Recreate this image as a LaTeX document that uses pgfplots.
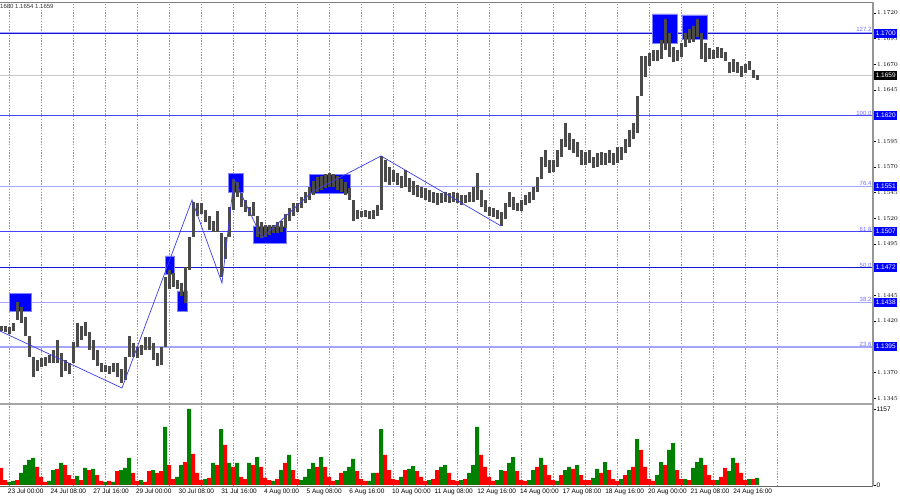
\documentclass[border=0pt]{standalone}
\usepackage{pgfplots}
\pgfplotsset{compat=1.18}
\usepackage{pgfplotstable}
\usepackage{fontspec}
\setmainfont{Liberation Sans}

\definecolor{candle}{RGB}{75,75,75}
\definecolor{lvdark}{RGB}{20,20,215}
\definecolor{lvmid}{RGB}{70,70,245}
\definecolor{lvlight}{RGB}{165,165,255}
\definecolor{lvtext}{RGB}{110,110,255}
\definecolor{boxblue}{RGB}{0,0,255}
\definecolor{boxedge}{RGB}{130,130,255}
\definecolor{zig}{RGB}{60,60,235}
\definecolor{volgreen}{RGB}{0,128,0}
\definecolor{volred}{RGB}{255,0,0}
\definecolor{framec}{RGB}{150,150,150}
\definecolor{gridc}{RGB}{150,150,150}
\definecolor{lastp}{RGB}{200,200,200}

\newcommand{\tinyfont}{\fontsize{6.5}{7}\selectfont}

% hourly bars, sampled every 3 hours: hour index, low, high
\pgfplotstableread{
h lo hi
-6 1.1410 1.1415
-3 1.1409 1.1415
0 1.1407 1.1414
3 1.1410 1.1418
6 1.1421 1.1439
9 1.1418 1.1434
12 1.1405 1.1424
15 1.1385 1.1405
18 1.1366 1.1385
21 1.1371 1.1382
24 1.1375 1.1384
27 1.1376 1.1385
30 1.1379 1.1387
33 1.1379 1.1392
36 1.1379 1.1402
39 1.1366 1.1389
42 1.1371 1.1382
45 1.1368 1.1379
48 1.1379 1.1400
51 1.1395 1.1418
54 1.1402 1.1415
57 1.1405 1.1419
60 1.1392 1.1409
63 1.1382 1.1402
66 1.1376 1.1392
69 1.1370 1.1379
72 1.1370 1.1377
75 1.1368 1.1376
78 1.1370 1.1379
81 1.1366 1.1379
84 1.1360 1.1373
87 1.1363 1.1385
90 1.1385 1.1405
93 1.1385 1.1399
96 1.1384 1.1395
99 1.1387 1.1397
102 1.1392 1.1404
105 1.1392 1.1404
108 1.1382 1.1399
111 1.1376 1.1389
114 1.1377 1.1395
117 1.1395 1.1463
120 1.1451 1.1470
123 1.1453 1.1467
126 1.1451 1.1460
129 1.1444 1.1457
132 1.1438 1.1473
135 1.1470 1.1502
138 1.1502 1.1536
141 1.1522 1.1535
144 1.1524 1.1535
147 1.1516 1.1528
150 1.1509 1.1522
153 1.1507 1.1517
156 1.1507 1.1527
159 1.1463 1.1506
162 1.1480 1.1502
165 1.1502 1.1531
168 1.1528 1.1558
171 1.1541 1.1555
174 1.1531 1.1545
177 1.1526 1.1538
180 1.1522 1.1531
183 1.1522 1.1536
186 1.1502 1.1522
189 1.1501 1.1516
192 1.1502 1.1514
195 1.1504 1.1514
198 1.1506 1.1514
201 1.1506 1.1516
204 1.1507 1.1517
207 1.1511 1.1524
210 1.1517 1.1530
213 1.1522 1.1535
216 1.1526 1.1535
219 1.1530 1.1541
222 1.1535 1.1546
225 1.1538 1.1551
228 1.1543 1.1556
231 1.1546 1.1560
234 1.1548 1.1561
237 1.1550 1.1563
240 1.1551 1.1564
243 1.1551 1.1563
246 1.1548 1.1561
249 1.1546 1.1558
252 1.1543 1.1555
255 1.1538 1.1550
258 1.1517 1.1538
261 1.1519 1.1528
264 1.1521 1.1527
267 1.1521 1.1528
270 1.1519 1.1527
273 1.1519 1.1528
276 1.1522 1.1533
279 1.1528 1.1581
282 1.1555 1.1577
285 1.1553 1.1570
288 1.1555 1.1567
291 1.1553 1.1564
294 1.1550 1.1561
297 1.1551 1.1567
300 1.1546 1.1559
303 1.1543 1.1556
306 1.1541 1.1553
309 1.1540 1.1551
312 1.1538 1.1550
315 1.1536 1.1548
318 1.1535 1.1546
321 1.1533 1.1545
324 1.1535 1.1545
327 1.1536 1.1546
330 1.1535 1.1545
333 1.1536 1.1546
336 1.1535 1.1545
339 1.1533 1.1543
342 1.1535 1.1543
345 1.1536 1.1546
348 1.1536 1.1551
351 1.1538 1.1564
354 1.1531 1.1548
357 1.1526 1.1538
360 1.1522 1.1531
363 1.1521 1.1530
366 1.1519 1.1528
369 1.1513 1.1526
372 1.1519 1.1535
375 1.1531 1.1546
378 1.1528 1.1541
381 1.1527 1.1535
384 1.1527 1.1538
387 1.1533 1.1543
390 1.1535 1.1546
393 1.1538 1.1551
396 1.1546 1.1560
399 1.1558 1.1580
402 1.1570 1.1587
405 1.1564 1.1577
408 1.1565 1.1577
411 1.1570 1.1587
414 1.1580 1.1597
417 1.1590 1.1613
420 1.1587 1.1603
423 1.1584 1.1597
426 1.1580 1.1594
429 1.1572 1.1587
432 1.1572 1.1585
435 1.1574 1.1587
438 1.1569 1.1580
441 1.1570 1.1584
444 1.1572 1.1585
447 1.1572 1.1584
450 1.1574 1.1587
453 1.1572 1.1584
456 1.1574 1.1590
459 1.1577 1.1590
462 1.1584 1.1597
465 1.1590 1.1606
468 1.1597 1.1613
471 1.1603 1.1639
474 1.1639 1.1678
477 1.1658 1.1678
480 1.1668 1.1681
483 1.1673 1.1684
486 1.1673 1.1684
489 1.1675 1.1694
492 1.1684 1.1714
495 1.1677 1.1701
498 1.1672 1.1687
501 1.1673 1.1684
504 1.1677 1.1691
507 1.1687 1.1701
510 1.1691 1.1704
513 1.1692 1.1707
516 1.1697 1.1714
519 1.1675 1.1701
522 1.1672 1.1691
525 1.1675 1.1686
528 1.1675 1.1684
531 1.1676 1.1687
534 1.1676 1.1686
537 1.1673 1.1682
540 1.1662 1.1672
543 1.1663 1.1675
546 1.1662 1.1672
549 1.1658 1.1668
552 1.1662 1.1670
555 1.1665 1.1673
558 1.1657 1.1665
561 1.1655 1.1660
}\candles

% tick volume, same sampling: hour index, up volume, down volume
\pgfplotstableread{
h g r
-6 0 259
-3 0 76
0 46 0
3 61 0
6 0 76
9 183 0
12 304 0
15 381 0
18 411 0
21 0 274
24 0 122
27 0 46
30 61 0
33 228 0
36 0 244
39 335 0
42 0 304
45 0 152
48 0 91
51 137 0
54 0 76
57 259 0
60 0 228
63 244 0
66 0 152
69 0 61
72 46 0
75 0 61
78 46 0
81 0 213
84 228 0
87 259 0
90 411 0
93 0 183
96 0 61
99 76 0
102 0 46
105 0 213
108 228 0
111 0 183
114 0 213
117 883 0
120 0 304
123 0 91
126 122 0
129 304 0
132 0 350
135 1157 0
138 0 472
141 0 183
144 0 76
147 91 0
150 0 107
153 335 0
156 0 304
159 852 0
162 0 609
165 335 0
168 0 274
171 335 0
174 0 122
177 0 91
180 335 0
183 0 304
186 426 0
189 0 274
192 0 107
195 0 76
198 61 0
201 0 91
204 228 0
207 0 335
210 457 0
213 0 228
216 0 91
219 76 0
222 122 0
225 244 0
228 335 0
231 0 274
234 426 0
237 0 274
240 0 122
243 0 61
246 76 0
249 0 183
252 213 0
255 274 0
258 396 0
261 0 213
264 0 91
267 0 61
270 61 0
273 183 0
276 0 183
279 852 0
282 0 457
285 0 228
288 0 91
291 0 76
294 122 0
297 0 228
300 244 0
303 289 0
306 0 213
309 0 122
312 0 61
315 76 0
318 0 91
321 0 228
324 274 0
327 304 0
330 0 183
333 0 76
336 0 61
339 76 0
342 0 91
345 183 0
348 304 0
351 883 0
354 0 457
357 0 274
360 0 122
363 0 61
366 76 0
369 228 0
372 0 213
375 335 0
378 426 0
381 0 213
384 0 76
387 0 61
390 76 0
393 228 0
396 0 274
399 411 0
402 0 304
405 0 152
408 0 76
411 61 0
414 0 152
417 228 0
420 274 0
423 0 244
426 304 0
429 0 152
432 0 76
435 0 76
438 107 0
441 244 0
444 0 183
447 350 0
450 0 228
453 0 91
456 0 61
459 91 0
462 0 152
465 228 0
468 0 274
471 700 0
474 0 533
477 0 274
480 0 91
483 0 61
486 152 0
489 350 0
492 0 304
495 533 0
498 639 0
501 0 228
504 0 91
507 91 0
510 0 76
513 259 0
516 350 0
519 411 0
522 0 304
525 0 152
528 0 76
531 76 0
534 0 122
537 0 259
540 213 0
543 411 0
546 0 335
549 0 183
552 0 76
555 91 0
558 0 91
561 107 0
}\vols

\begin{document}
\begin{tikzpicture}
\fill[white] (0,0) rectangle (900pt,500pt);

% ---- price panel ----
\begin{axis}[
  at={(0pt,97pt)}, anchor=south west,
  width=873pt, height=401pt, scale only axis,
  xmin=-6.75, xmax=648, ymin=1.13402, ymax=1.173075,
  clip=false,
  axis line style={draw=none},
  xtick={0,24,...,576}, xticklabels={},
  xmajorgrids, x tick style={draw=none},
  grid style={gridc, line width=0.8pt, dash pattern=on 1.4pt off 1.4pt},
  ytick={1.1345,1.1370,1.1420,1.1445,1.1495,1.1520,1.1545,1.1570,1.1595,1.1645,1.1670,1.1695,1.1720},
  ytick pos=right, yticklabel pos=right,
  y tick style={black, line width=0.5pt},
  major tick length=3pt, tick align=outside,
  yticklabel={\pgfmathprintnumber[fixed,fixed zerofill,precision=4]{\tick}},
  yticklabel style={anchor=west, inner sep=1pt, font=\tinyfont},
]
% retracement levels
\addplot[draw=lvlight, line width=2.2pt] coordinates {(-6.75,1.17005) (648,1.17005)};
\addplot[draw=lvdark, line width=1.1pt] coordinates {(-6.75,1.1700) (648,1.1700)};
\addplot[draw=lastp, line width=0.8pt] coordinates {(-6.75,1.1659) (648,1.1659)};
\addplot[draw=lvmid, line width=1pt] coordinates {(-6.75,1.1620) (648,1.1620)};
\addplot[draw=lvlight, line width=1.8pt] coordinates {(-6.75,1.1551) (648,1.1551)};
\addplot[draw=lvmid, line width=1pt] coordinates {(-6.75,1.1507) (648,1.1507)};
\addplot[draw=lvdark, line width=1.5pt] coordinates {(-6.75,1.1472) (648,1.1472)};
\addplot[draw=lvlight, line width=1.8pt] coordinates {(-6.75,1.1438) (648,1.1438)};
\addplot[draw=lvlight, line width=1.8pt] coordinates {(-6.75,1.1395) (648,1.1395)};

% highlighted zones
\addplot[fill=boxblue, draw=boxedge, line width=0.6pt] coordinates {(0,1.14298) (16.5,1.14298) (16.5,1.14473) (0,1.14473) (0,1.14298)};
\addplot[fill=boxblue, draw=boxedge, line width=0.6pt] coordinates {(117,1.14658) (123.75,1.14658) (123.75,1.14834) (117,1.14834) (117,1.14658)};
\addplot[fill=boxblue, draw=boxedge, line width=0.6pt] coordinates {(126,1.14298) (133.5,1.14298) (133.5,1.14493) (126,1.14493) (126,1.14298)};
\addplot[fill=boxblue, draw=boxedge, line width=0.6pt] coordinates {(164.25,1.15457) (175.5,1.15457) (175.5,1.15642) (164.25,1.15642) (164.25,1.15457)};
\addplot[fill=boxblue, draw=boxedge, line width=0.6pt] coordinates {(183,1.14960) (207.75,1.14960) (207.75,1.15126) (183,1.15126) (183,1.14960)};
\addplot[fill=boxblue, draw=boxedge, line width=0.6pt] coordinates {(225,1.15447) (255.75,1.15447) (255.75,1.15632) (225,1.15632) (225,1.15447)};
\addplot[fill=boxblue, draw=boxedge, line width=0.6pt] coordinates {(482.25,1.16908) (501,1.16908) (501,1.17191) (482.25,1.17191) (482.25,1.16908)};
\addplot[fill=boxblue, draw=boxedge, line width=0.6pt] coordinates {(504.75,1.16947) (523.5,1.16947) (523.5,1.17181) (504.75,1.17181) (504.75,1.16947)};

% price bars: one vertical stroke from low to high
\addplot[mark=none, draw=candle, line width=3pt,
  quiver={u=0, v=\thisrow{hi}-\thisrow{lo},
    every arrow/.append style={-, draw=candle, line width=3pt}}]
  table[x=h, y=lo] {\candles};

% swing lines
\addplot[draw=zig, line width=0.7pt] coordinates {
  (-6.75,1.14103) (84.75,1.13548) (137.25,1.15379) (159.75,1.14571)
  (168.75,1.15584) (189.75,1.15009) (227.25,1.15457) (279,1.15808) (369,1.15126)};

% level captions
\begin{scope}[every node/.style={anchor=south east, inner sep=0.4pt, text=lvtext, font=\fontsize{6}{6}\selectfont, xshift=-1pt}]
\node at (axis cs:648,1.1701) {127.2};
\node at (axis cs:648,1.1620) {100.0};
\node at (axis cs:648,1.1551) {76.4};
\node at (axis cs:648,1.1507) {61.8};
\node at (axis cs:648,1.1472) {50.0};
\node at (axis cs:648,1.1438) {38.2};
\node at (axis cs:648,1.1395) {23.6};
\end{scope}
\begin{scope}[every node/.style={anchor=west, fill=boxblue, text=white, inner xsep=1.6pt, inner ysep=0.6pt, minimum height=8.5pt, font=\tinyfont, xshift=1pt}]
\node at (axis cs:648,1.1700) {1.1700};
\node at (axis cs:648,1.1620) {1.1620};
\node at (axis cs:648,1.1551) {1.1551};
\node at (axis cs:648,1.1507) {1.1507};
\node at (axis cs:648,1.1472) {1.1472};
\node at (axis cs:648,1.1438) {1.1438};
\node at (axis cs:648,1.1395) {1.1395};
\node[fill=black] at (axis cs:648,1.1659) {1.1659};
\end{scope}
\node[anchor=north west, inner sep=0pt, text=black!80, font=\fontsize{6}{6}\selectfont] at ([yshift=-2pt]rel axis cs:0,1) {1680 1.1654 1.1659};

% frame
\draw[gray, line width=0.8pt] (rel axis cs:0,1) -- (rel axis cs:1,1);
\draw[framec, line width=2pt] (rel axis cs:1,0) -- (rel axis cs:1,1);
\end{axis}

% ---- volume panel ----
\begin{axis}[
  at={(0pt,14pt)}, anchor=south west,
  width=873pt, height=81pt, scale only axis,
  xmin=-6.75, xmax=648, ymin=-15.2, ymax=1217.6,
  clip=false,
  axis line style={draw=none},
  xtick={0,24,...,576}, xticklabels={},
  xmajorgrids, x tick style={draw=none},
  grid style={gridc, line width=0.8pt, dash pattern=on 1.4pt off 1.4pt},
  ytick={0,1157}, yticklabels={0,1157},
  ytick pos=right, yticklabel pos=right,
  y tick style={black, line width=0.5pt},
  major tick length=2.5pt, tick align=outside,
  yticklabel style={anchor=west, inner sep=1pt, font=\tinyfont},
]
\addplot[ybar, bar width=4pt, bar shift=0pt, fill=volgreen, draw=none] table[x=h, y=g] {\vols};
\addplot[ybar, bar width=4pt, bar shift=0pt, fill=volred, draw=none] table[x=h, y=r] {\vols};
\draw[gray!70, line width=2.4pt] ([yshift=1.2pt]rel axis cs:0,1) -- ([yshift=1.2pt]rel axis cs:1,1);
\draw[gray!80!black, line width=0.8pt] (rel axis cs:0,0) -- (rel axis cs:1,0);
\draw[framec, line width=2pt] (rel axis cs:1,0) -- ([yshift=2.4pt]rel axis cs:1,1);
% time scale
\begin{scope}[every node/.style={anchor=north west, inner sep=0pt, font=\tinyfont, yshift=-2.6pt, xshift=-1.2pt}]
\node at (axis cs:0,-15.2) {23 Jul 00:00};
\node at (axis cs:32,-15.2) {24 Jul 08:00};
\node at (axis cs:64,-15.2) {27 Jul 16:00};
\node at (axis cs:96,-15.2) {29 Jul 00:00};
\node at (axis cs:128,-15.2) {30 Jul 08:00};
\node at (axis cs:160,-15.2) {31 Jul 16:00};
\node at (axis cs:192,-15.2) {4 Aug 00:00};
\node at (axis cs:224,-15.2) {5 Aug 08:00};
\node at (axis cs:256,-15.2) {6 Aug 16:00};
\node at (axis cs:288,-15.2) {10 Aug 00:00};
\node at (axis cs:320,-15.2) {11 Aug 08:00};
\node at (axis cs:352,-15.2) {12 Aug 16:00};
\node at (axis cs:384,-15.2) {14 Aug 00:00};
\node at (axis cs:416,-15.2) {17 Aug 08:00};
\node at (axis cs:448,-15.2) {18 Aug 16:00};
\node at (axis cs:480,-15.2) {20 Aug 00:00};
\node at (axis cs:512,-15.2) {21 Aug 08:00};
\node at (axis cs:544,-15.2) {24 Aug 16:00};
\end{scope}
\end{axis}
\pgfresetboundingbox
\useasboundingbox (0,0) rectangle (900pt,500pt);
\end{tikzpicture}
\end{document}
